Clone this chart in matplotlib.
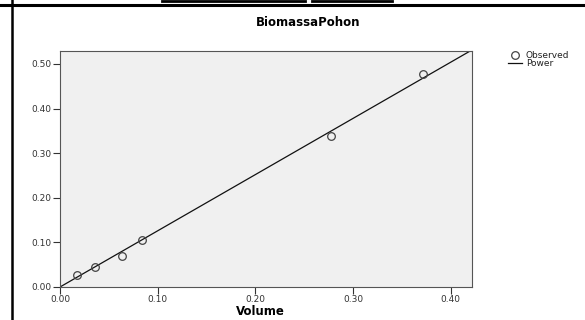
import numpy as np
import matplotlib
matplotlib.use("Agg")
import matplotlib.pyplot as plt
from matplotlib.lines import Line2D

plt.rcParams['font.family'] = ['DejaVu Sans']

volume = [0.0177, 0.0358, 0.0635, 0.0843, 0.277, 0.372]
biomassa = [0.027, 0.0455, 0.070, 0.105, 0.339, 0.477]

# power model y = a * x^b
power_a = 1.26
power_b = 1.0

x_ticks = [0.0, 0.1, 0.2, 0.3, 0.4]
y_ticks = [0.0, 0.1, 0.2, 0.3, 0.4, 0.5]

W, H = 585, 320
fig = plt.figure(figsize=(W / 100, H / 100), dpi=100)
ax = fig.add_axes([60 / W, 1 - 287 / H, (472 - 60) / W, (287 - 51) / H])
ax.set_facecolor('#f0f0f0')

xs = np.linspace(0, 0.4217, 200)
ax.plot(xs, power_a * xs ** power_b, color='#111111', lw=0.9)
ax.plot(volume, biomassa, 'o', mfc='none', mec='#444444', ms=5.5, mew=0.9)

ax.set_xlim(0, 0.4217)
ax.set_ylim(0, 0.529)
ax.set_xticks(x_ticks)
ax.set_yticks(y_ticks)
ax.set_xticklabels(["%.2f" % t for t in x_ticks])
ax.set_yticklabels(["%.2f" % t for t in y_ticks])
ax.tick_params(labelsize=6.5, colors='#333333', length=5, width=0.8, pad=1)
ax.tick_params(axis='x', pad=0.5)
for s in ax.spines.values():
    s.set_color('#555555')
    s.set_linewidth(0.8)

fig.text(308 / W, 1 - 23 / H, "BiomassaPohon", ha='center', va='center',
         fontsize=8.5, fontweight='bold')
fig.text(260 / W, 1 - 311.5 / H, "Volume", ha='center', va='center',
         fontsize=8.5, fontweight='bold')

# legend, drawn by hand to match the compact SPSS layout
fig.add_artist(Line2D([515 / W], [1 - 55 / H], marker='o', mfc='none',
                      mec='#444444', ms=5.5, mew=0.9))
fig.add_artist(Line2D([508 / W, 522 / W], [1 - 63 / H] * 2,
                      color='#111111', lw=0.9))
fig.text(526 / W, 1 - 55 / H, "Observed", ha='left', va='center',
         fontsize=6.5, color='#222222')
fig.text(526 / W, 1 - 63 / H, "Power", ha='left', va='center',
         fontsize=6.5, color='#222222')

# document frame lines around the chart
fig.add_artist(Line2D([0, 1], [1 - 4.5 / H] * 2, color='black', lw=2.2))
fig.add_artist(Line2D([11.5 / W] * 2, [0, 1], color='black', lw=1.8))
fig.add_artist(Line2D([162 / W, 305 / W], [1 - 0.8 / H] * 2, color='black', lw=2))
fig.add_artist(Line2D([312 / W, 392 / W], [1 - 0.8 / H] * 2, color='black', lw=2))

fig.savefig("out.png", dpi=100)
